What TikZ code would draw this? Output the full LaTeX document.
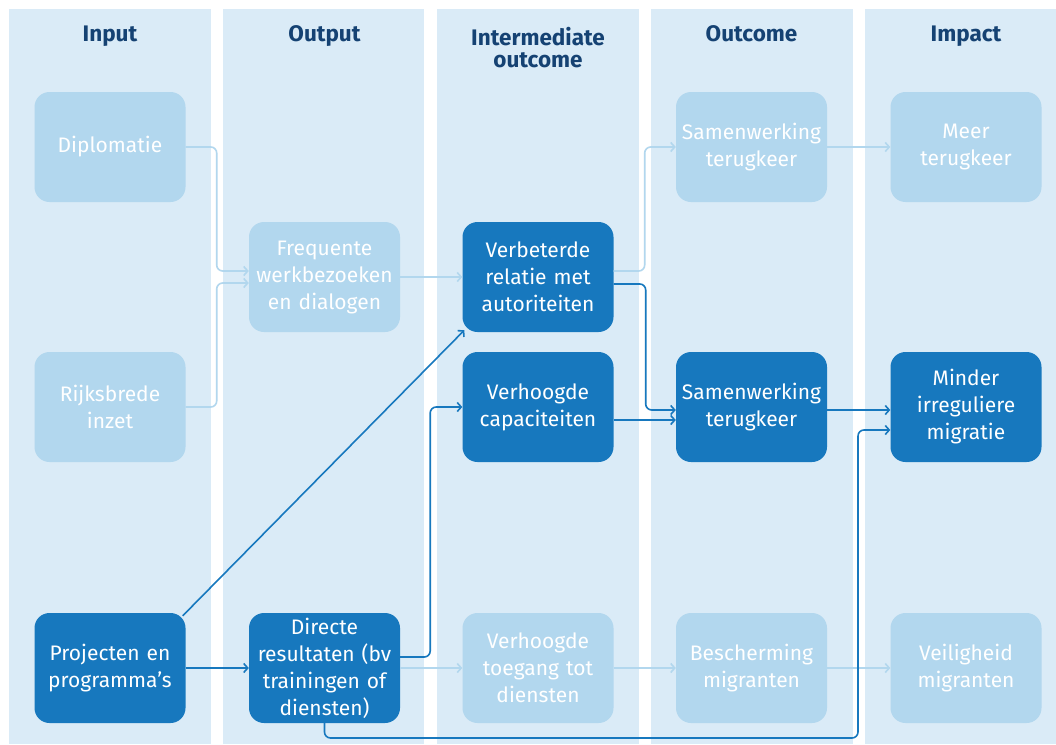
\documentclass[tikz,border=0pt]{standalone}
\usepackage{fontspec}
\setmainfont{Fira Sans}
\usetikzlibrary{arrows.meta}
\definecolor{colbg}{HTML}{DAEBF7}
\definecolor{darkbox}{HTML}{1778BE}
\definecolor{lightbox}{HTML}{B2D7EE}
\definecolor{headtxt}{HTML}{154273}
\tikzset{
  boxbase/.style={rounded corners=15pt, minimum width=151pt, minimum height=110pt, text width=148pt, align=center, inner sep=0pt, text=white, font=\fontsize{21}{27}\selectfont},
  darkbox/.style={boxbase, fill=darkbox},
  lightbox/.style={boxbase, fill=lightbox},
  colhead/.style={text=headtxt, font=\fontsize{22.5}{23}\selectfont\bfseries, align=center, anchor=base, inner sep=0pt},
  darkarr/.style={draw=darkbox, line width=1.6pt, rounded corners=6pt, -{Straight Barb[length=4pt,width=9pt]}},
  lightarr/.style={draw=lightbox, line width=1.6pt, rounded corners=6pt, -{Straight Barb[length=4pt,width=9pt]}},
}
\begin{document}
\begin{tikzpicture}[x=1pt,y=-1pt]
\useasboundingbox[fill=white] (0,0) rectangle (1056,744);
% columns
\fill[colbg] (9,9) rectangle (211,744);
\fill[colbg] (223,9) rectangle (424,744);
\fill[colbg] (437,9) rectangle (639,744);
\fill[colbg] (651,9) rectangle (853,744);
\fill[colbg] (865,9) rectangle (1056,744);
% headers
\node[colhead] (h1) at (110,41) {Input};
\node[colhead] (h2) at (324.5,41) {Output};
\node[colhead] (h3) at (538,45) {Intermediate};
\node[colhead] (h3b) at (538,67) {outcome};
\node[colhead] (h4) at (751.5,41) {Outcome};
\node[colhead] (h5) at (966,41) {Impact};
% boxes
\node[lightbox] (dip) at (110,147) {Diplomatie};
\node[lightbox] (rijk) at (110,407) {Rijksbrede\\inzet};
\node[darkbox] (proj) at (110,668) {Projecten en\\programma’s};
\node[lightbox] (freq) at (324.5,277) {Frequente\\werkbezoeken\\en dialogen};
\node[darkbox] (dir) at (324.5,668) {Directe\\resultaten (bv\\trainingen of\\diensten)};
\node[darkbox] (verb) at (538,277) {Verbeterde\\relatie met\\autoriteiten};
\node[darkbox] (cap) at (538,407) {Verhoogde\\capaciteiten};
\node[lightbox] (toeg) at (538,668) {Verhoogde\\toegang tot\\diensten};
\node[lightbox] (sam1) at (751.5,147) {Samenwerking\\terugkeer};
\node[darkbox] (sam2) at (751.5,407) {Samenwerking\\terugkeer};
\node[lightbox] (besch) at (751.5,668) {Bescherming\\migranten};
\node[lightbox] (meer) at (966,147) {Meer\\terugkeer};
\node[darkbox] (mind) at (966,407) {Minder\\irreguliere\\migratie};
\node[lightbox] (veil) at (966,668) {Veiligheid\\migranten};
% light connectors
\draw[lightarr] (dip.east) -- ++(31,0) |- ([yshift=6pt]freq.west);
\draw[lightarr] (rijk.east) -- ++(31,0) |- ([yshift=-6pt]freq.west);
\draw[lightarr] (freq.east) -- (verb.west);
\draw[lightarr] ([yshift=6pt]verb.east) -- ++(31,0) |- (sam1.west);
\draw[lightarr] (sam1.east) -- (meer.west);
\draw[lightarr] (dir.east) -- (toeg.west);
\draw[lightarr] (toeg.east) -- (besch.west);
\draw[lightarr] (besch.east) -- (veil.west);
% dark connectors
\coordinate (c9) at (858,738);
\draw[darkarr] ([yshift=-7pt]verb.east) -- ++(32,0) |- ([yshift=-3pt]sam2.west);
\draw[darkarr] ([yshift=-13pt]cap.east) -- ([yshift=-13pt]sam2.west);
\draw[darkarr] ([yshift=-3pt]sam2.east) -- ([yshift=-3pt]mind.west);
\draw[darkarr] (dir.south) |- (c9) |- ([yshift=-23pt]mind.west);
\draw[darkarr] ([shift={(-3pt,-3pt)}]proj.north east) -- ([shift={(2pt,2pt)}]verb.south west);
\draw[darkarr] (proj.east) -- (dir.west);
\draw[darkarr] ([yshift=11pt]dir.east) -- ++(30,0) |- (cap.west);
\end{tikzpicture}
\end{document}
